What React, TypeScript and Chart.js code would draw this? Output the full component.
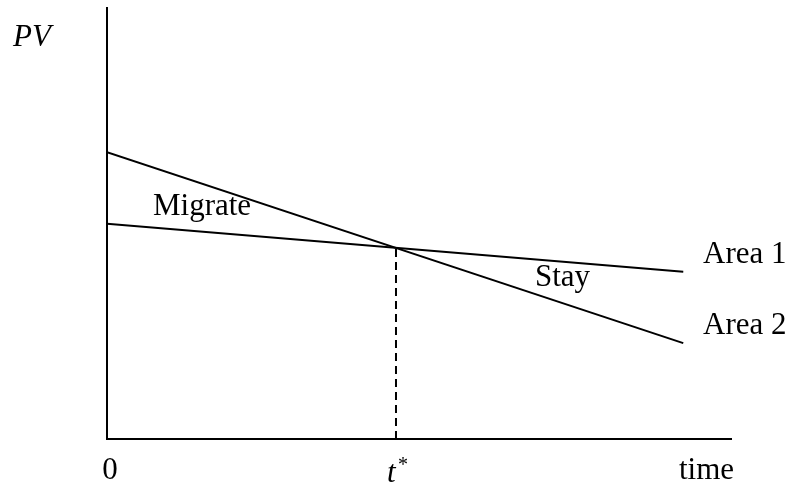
import React, { useEffect, useRef } from "react";
import { Chart, registerables } from "chart.js";

Chart.register(...registerables);

// Data (abstract units: time 0..100, PV 0..100)
const timePoints = [0, 92.2];
const area1 = [49.8, 38.7];
const area2 = [66.4, 22.2];
const xMax = 100;
const yMax = 100;

const regionLabels = ["Migrate", "Stay"];
const seriesLabels = ["Area 1", "Area 2"];
const axisLabels = { y: "PV", origin: "0", tStar: "t", x: "time" };

// intersection of the two lines
const slope1 = (area1[1] - area1[0]) / (timePoints[1] - timePoints[0]);
const slope2 = (area2[1] - area2[0]) / (timePoints[1] - timePoints[0]);
const tStar = timePoints[0] + (area2[0] - area1[0]) / (slope1 - slope2);
const pvStar = area1[0] + slope1 * (tStar - timePoints[0]);

const FONT = "'Liberation Serif', 'Times New Roman', serif";

const overlay = {
  id: "overlay",
  afterDraw(chart: any) {
    const { ctx, chartArea } = chart;
    const { left, right, top, bottom } = chartArea;
    const xs = chart.scales.x;
    ctx.save();
    // axes
    ctx.strokeStyle = "#000";
    ctx.lineWidth = 2;
    ctx.beginPath();
    ctx.moveTo(left, top);
    ctx.lineTo(left, bottom);
    ctx.lineTo(right, bottom);
    ctx.stroke();

    ctx.fillStyle = "#000";
    ctx.textBaseline = "alphabetic";
    ctx.textAlign = "left";
    ctx.font = `italic 31px ${FONT}`;
    ctx.fillText(axisLabels.y, left - 94, top + 39);

    ctx.font = `31px ${FONT}`;
    ctx.fillText(regionLabels[0], left + 46, top + 208);
    ctx.fillText(regionLabels[1], left + 428, top + 279);
    ctx.fillText(seriesLabels[0], left + 596, top + 256);
    ctx.fillText(seriesLabels[1], left + 596, top + 327);

    ctx.textAlign = "center";
    ctx.fillText(axisLabels.origin, left + 3, bottom + 40);
    ctx.textAlign = "left";
    ctx.fillText(axisLabels.x, right - 53, bottom + 40);

    const tx = xs.getPixelForValue(tStar);
    ctx.font = `italic 31px ${FONT}`;
    ctx.fillText(axisLabels.tStar, tx - 9, bottom + 43);
    ctx.font = `20px ${FONT}`;
    ctx.fillText("*", tx + 2, bottom + 32);
    ctx.restore();
  },
};

export default function App() {
  const ref = useRef<HTMLCanvasElement | null>(null);
  useEffect(() => {
    if (!ref.current) return;
    const chart = new Chart(ref.current, {
      type: "scatter",
      data: {
        datasets: [
          {
            label: seriesLabels[0],
            data: timePoints.map((t, i) => ({ x: t, y: area1[i] })),
            showLine: true,
            borderColor: "#000",
            borderWidth: 2,
            pointRadius: 0,
          },
          {
            label: seriesLabels[1],
            data: timePoints.map((t, i) => ({ x: t, y: area2[i] })),
            showLine: true,
            borderColor: "#000",
            borderWidth: 2,
            pointRadius: 0,
          },
          {
            label: "t*",
            data: [
              { x: tStar, y: 0 },
              { x: tStar, y: pvStar },
            ],
            showLine: true,
            borderColor: "#000",
            borderWidth: 2,
            borderDash: [8, 5],
            pointRadius: 0,
          },
        ],
      },
      options: {
        animation: false,
        responsive: false,
        layout: { padding: { left: 107, right: 58, top: 7, bottom: 47 } },
        plugins: { legend: { display: false }, tooltip: { enabled: false } },
        scales: {
          x: { type: "linear", min: 0, max: xMax, display: false },
          y: { type: "linear", min: 0, max: yMax, display: false },
        },
      },
      plugins: [overlay],
    });
    return () => chart.destroy();
  }, []);
  return (
    <div style={{ position: "absolute", left: 0, top: 0, width: 790, height: 486, background: "#fff" }}>
      <canvas ref={ref} width={790} height={486} />
    </div>
  );
}
